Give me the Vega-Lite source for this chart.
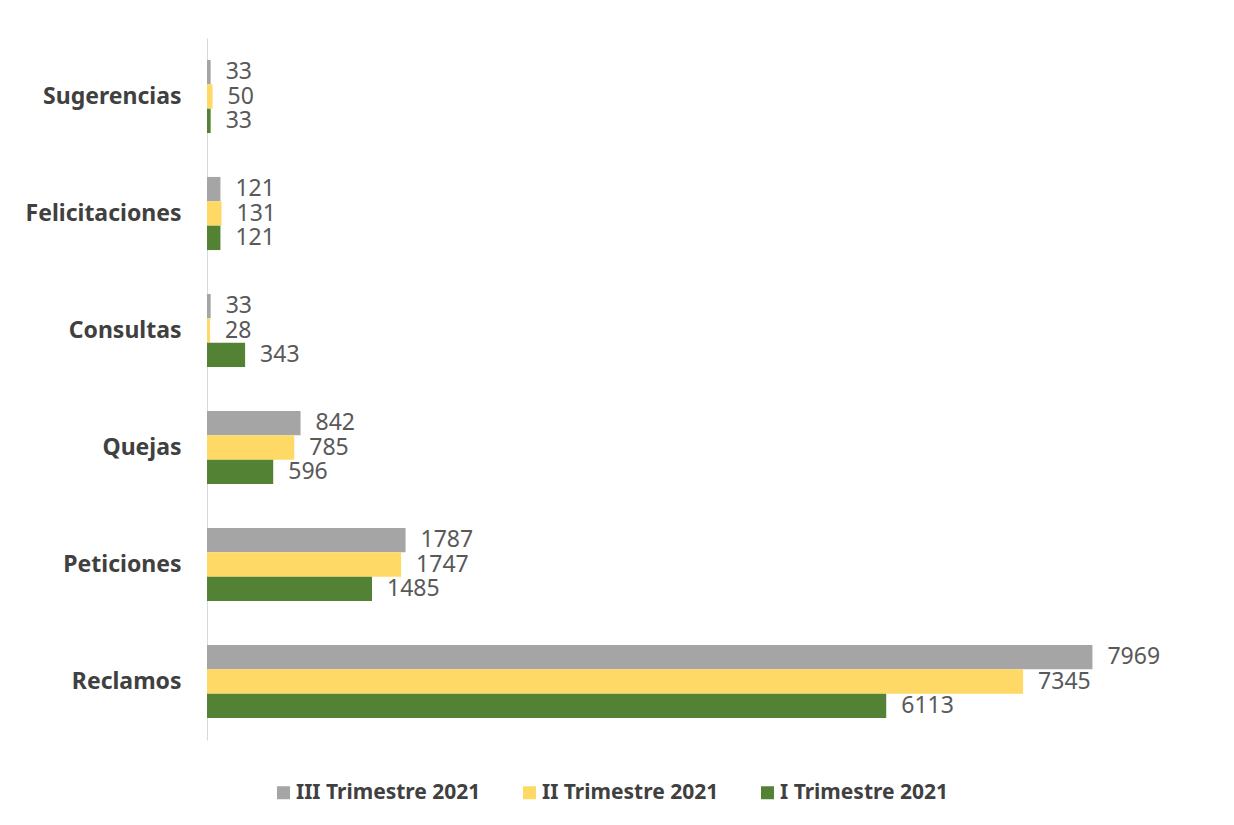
{
  "$schema": "https://vega.github.io/schema/vega-lite/v6.json",
  "autosize": {"type": "none"},
  "padding": {"left": 207, "top": 38, "right": 27, "bottom": 85},
  "width": 1000,
  "height": 702,
  "background": "white",
  "config": {"view": {"stroke": null}, "font": "Noto Sans"},
  "data": {"values": [
    {"categoria": "Sugerencias", "periodo": "III Trimestre 2021", "valor": 33},
    {"categoria": "Sugerencias", "periodo": "II Trimestre 2021", "valor": 50},
    {"categoria": "Sugerencias", "periodo": "I Trimestre 2021", "valor": 33},
    {"categoria": "Felicitaciones", "periodo": "III Trimestre 2021", "valor": 121},
    {"categoria": "Felicitaciones", "periodo": "II Trimestre 2021", "valor": 131},
    {"categoria": "Felicitaciones", "periodo": "I Trimestre 2021", "valor": 121},
    {"categoria": "Consultas", "periodo": "III Trimestre 2021", "valor": 33},
    {"categoria": "Consultas", "periodo": "II Trimestre 2021", "valor": 28},
    {"categoria": "Consultas", "periodo": "I Trimestre 2021", "valor": 343},
    {"categoria": "Quejas", "periodo": "III Trimestre 2021", "valor": 842},
    {"categoria": "Quejas", "periodo": "II Trimestre 2021", "valor": 785},
    {"categoria": "Quejas", "periodo": "I Trimestre 2021", "valor": 596},
    {"categoria": "Peticiones", "periodo": "III Trimestre 2021", "valor": 1787},
    {"categoria": "Peticiones", "periodo": "II Trimestre 2021", "valor": 1747},
    {"categoria": "Peticiones", "periodo": "I Trimestre 2021", "valor": 1485},
    {"categoria": "Reclamos", "periodo": "III Trimestre 2021", "valor": 7969},
    {"categoria": "Reclamos", "periodo": "II Trimestre 2021", "valor": 7345},
    {"categoria": "Reclamos", "periodo": "I Trimestre 2021", "valor": 6113}
  ]},
  "encoding": {
    "y": {
      "field": "categoria", "type": "nominal",
      "sort": ["Sugerencias", "Felicitaciones", "Consultas", "Quejas", "Peticiones", "Reclamos"],
      "scale": {"paddingInner": 0.375, "paddingOuter": 0.1875},
      "axis": {
        "title": null, "ticks": false, "domainColor": "#D9D9D9", "domainWidth": 1,
        "labelFontSize": 23, "labelFontWeight": "bold", "labelColor": "#404040",
        "labelPadding": 26, "labelFont": "Noto Sans", "labelLimit": 300
      }
    },
    "yOffset": {
      "field": "periodo", "type": "nominal",
      "scale": {"domain": ["III Trimestre 2021", "II Trimestre 2021", "I Trimestre 2021"], "paddingInner": 0, "paddingOuter": 0}
    },
    "x": {
      "field": "valor", "type": "quantitative",
      "scale": {"domain": [0, 9000], "nice": false},
      "axis": null
    }
  },
  "layer": [
    {
      "mark": {"type": "bar"},
      "encoding": {
        "color": {
          "field": "periodo", "type": "nominal",
          "scale": {
            "domain": ["III Trimestre 2021", "II Trimestre 2021", "I Trimestre 2021"],
            "range": ["#A5A5A5", "#FFD966", "#548235"]
          },
          "legend": {
            "title": null, "orient": "none", "legendX": 66, "legendY": 744,
            "direction": "horizontal", "columns": 3, "columnPadding": 38,
            "symbolType": "square", "symbolSize": 169, "symbolStrokeWidth": 0,
            "labelFontSize": 21, "labelFontWeight": "bold", "labelColor": "#404040",
            "labelFont": "Noto Sans", "labelOffset": 2, "labelLimit": 300
          }
        }
      }
    },
    {
      "mark": {"type": "text", "align": "left", "baseline": "middle", "dx": 15, "fontSize": 23, "color": "#595959", "font": "Noto Sans"},
      "encoding": {"text": {"field": "valor", "type": "quantitative", "format": "d"}}
    }
  ]
}
